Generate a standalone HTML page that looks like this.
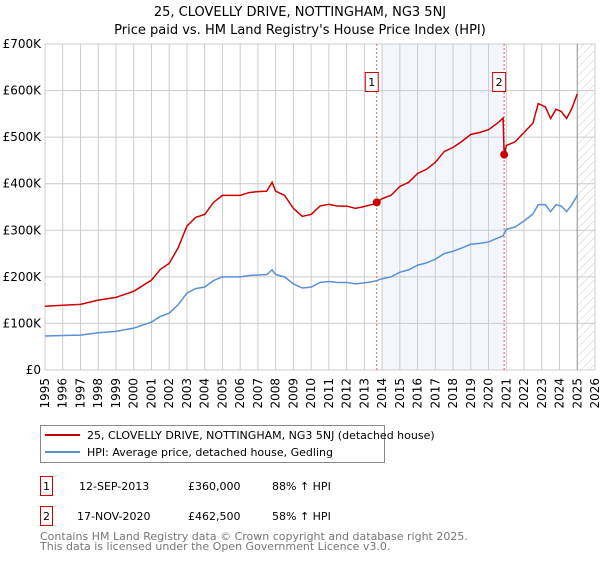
<!DOCTYPE html>
<html><head><meta charset="utf-8">
<style>
body{margin:0;background:#fff;font-family:"Liberation Sans","DejaVu Sans",sans-serif;}
svg text{font-family:"DejaVu Sans","Liberation Sans",sans-serif;}
</style></head>
<body>
<svg id="chart" width="600" height="560" xmlns="http://www.w3.org/2000/svg">
<defs>
<pattern id="hatch" patternUnits="userSpaceOnUse" width="6" height="6" patternTransform="rotate(45)">
<line x1="0" y1="0" x2="0" y2="6" stroke="#ccc" stroke-width="1"/>
</pattern>
</defs>
<text x="300" y="16" text-anchor="middle" font-size="13">25, CLOVELLY DRIVE, NOTTINGHAM, NG3 5NJ</text>
<text x="300" y="34" text-anchor="middle" font-size="13">Price paid vs. HM Land Registry's House Price Index (HPI)</text>
<g id="plot"></g>
<g>
<rect x="40.5" y="425.5" width="344" height="37" fill="#fff" stroke="#888"/>
<line x1="45" y1="435" x2="80" y2="435" stroke="#cc0000" stroke-width="2"/>
<text x="87" y="439" font-size="11">25, CLOVELLY DRIVE, NOTTINGHAM, NG3 5NJ (detached house)</text>
<line x1="45" y1="452" x2="80" y2="452" stroke="#5b8fd6" stroke-width="2"/>
<text x="87" y="456" font-size="11">HPI: Average price, detached house, Gedling</text>
</g>
<g font-size="11">
<rect x="40.5" y="476.5" width="12" height="19" fill="#fff" stroke="#cc0000"/>
<text x="46.5" y="490" text-anchor="middle">1</text>
<text x="79" y="490">12-SEP-2013</text>
<text x="188" y="490">£360,000</text>
<text x="272" y="490">88% ↑ HPI</text>
<rect x="40.5" y="506.5" width="12" height="19" fill="#fff" stroke="#cc0000"/>
<text x="46.5" y="520" text-anchor="middle">2</text>
<text x="77" y="520">17-NOV-2020</text>
<text x="188" y="520">£462,500</text>
<text x="272" y="520">58% ↑ HPI</text>
</g>
<text x="40" y="540" font-size="11" fill="#777">Contains HM Land Registry data © Crown copyright and database right 2025.</text>
<text x="40" y="550" font-size="11" fill="#777">This data is licensed under the Open Government Licence v3.0.</text>
</svg>
<script>
const hpiYears=[1995,1996,1997,1998,1999,2000,2001,2001.5,2002,2002.5,2003,2003.5,2004,2004.5,2005,2005.5,2006,2006.5,2007,2007.5,2007.8,2008,2008.5,2009,2009.5,2010,2010.5,2011,2011.5,2012,2012.5,2013,2013.5,2013.7,2014,2014.5,2015,2015.5,2016,2016.5,2017,2017.5,2018,2018.5,2019,2019.5,2020,2020.5,2020.82,2020.88,2021,2021.5,2022,2022.5,2022.8,2023.2,2023.5,2023.8,2024.1,2024.4,2024.7,2025.0];
const hpiValues=[73,74,75,80,83,90,103,115,122,140,165,175,178,192,200,200,200,203,204,205,215,205,200,185,176,178,188,190,188,188,185,187,190,192,196,200,210,215,225,230,238,250,255,262,270,272,275,283,288,293,302,307,320,335,355,355,340,355,352,340,355,375];
const priceValues=[137,139,141,150,156,169,193,216,229,262,309,328,334,360,375,375,375,381,383,384,403,384,375,347,330,334,352,356,352,352,347,351,356,360,368,375,394,403,422,431,446,469,478,491,506,510,516,530,541,462,482,490,510,530,572,565,540,560,555,540,562,593];
const saleYears=[2013.7,2020.88];
const saleValues=[360,462.5];
const yTicks=[0,100,200,300,400,500,600,700];
const yTickLabels=["£0","£100K","£200K","£300K","£400K","£500K","£600K","£700K"];
const xTicks=[1995,1996,1997,1998,1999,2000,2001,2002,2003,2004,2005,2006,2007,2008,2009,2010,2011,2012,2013,2014,2015,2016,2017,2018,2019,2020,2021,2022,2023,2024,2025,2026];

const L=45,R=595,T=44,B=370;
const xs=y=>L+(y-1995)/(2026-1995)*(R-L);
const ys=v=>B-v/700*(B-T);
const NS="http://www.w3.org/2000/svg";
const g=document.getElementById('plot');
function el(tag,attrs,parent){const e=document.createElementNS(NS,tag);for(const k in attrs)e.setAttribute(k,attrs[k]);(parent||g).appendChild(e);return e;}

const shade=el('rect',{x:xs(2014),y:T,width:xs(2020.88)-xs(2014),height:B-T,fill:'#eef3fc',opacity:0.7});


const hat=el('rect',{x:xs(2025),y:T,width:R-xs(2025),height:B-T,fill:'url(#hatch)'});



xTicks.forEach(t=>{
  const ln=el('line',{x1:xs(t),x2:xs(t),y1:T,y2:B,stroke:'#ccc','stroke-width':1});
  
  
  const tx=el('text',{x:0,y:0,'font-size':12,'text-anchor':'end',transform:`translate(${xs(t)+4},${B+8}) rotate(-90)`});
  tx.textContent=t;
  
  
});
yTicks.forEach((t,i)=>{
  const ln=el('line',{x1:L,x2:R,y1:ys(t),y2:ys(t),stroke:'#ccc','stroke-width':1});
  
  
  const tx=el('text',{x:L-4,y:ys(t)+4,'font-size':12,'text-anchor':'end'});
  tx.textContent=yTickLabels[i];
  
  
});
const nowLine=el('line',{x1:xs(2025),x2:xs(2025),y1:T,y2:B,stroke:'#999','stroke-width':1});



saleYears.forEach((y,i)=>{
  const ln=el('line',{x1:xs(y),x2:xs(y),y1:T,y2:B,stroke:'#e06060','stroke-width':1,'stroke-dasharray':'2,2'});
  
  
  const bx=el('rect',{x:xs(y)-11.5,y:72.5,width:13,height:19,fill:'#fff',stroke:'#cc0000'});
  
  
  const tx=el('text',{x:xs(y)-5,y:86,'font-size':11,'text-anchor':'middle'});
  tx.textContent=String(i+1);
  
  
});

const hp=el('polyline',{points:hpiYears.map((y,i)=>xs(y)+','+ys(hpiValues[i])).join(' '),fill:'none',stroke:'#5b8fd6','stroke-width':1.5});


const pp=el('polyline',{points:hpiYears.map((y,i)=>xs(y)+','+ys(priceValues[i])).join(' '),fill:'none',stroke:'#cc0000','stroke-width':1.5});


saleYears.forEach((y,i)=>{
  const c=el('circle',{cx:xs(y),cy:ys(saleValues[i]),r:4,fill:'#cc0000'});
  
  
});
</script>
</body></html>
